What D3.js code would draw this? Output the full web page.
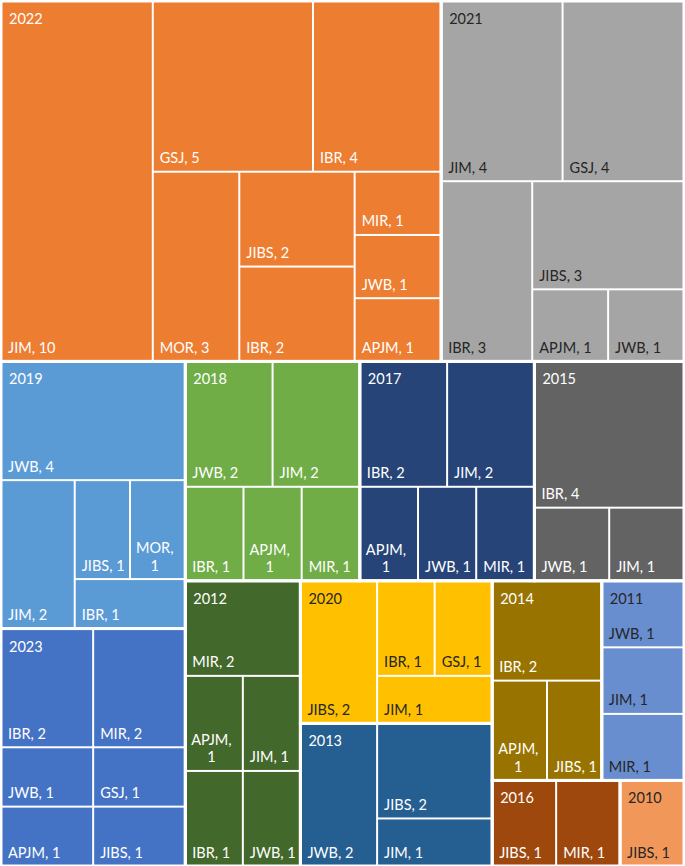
<!DOCTYPE html>
<html><head><meta charset="utf-8">
<script src="https://cdn.jsdelivr.net/npm/d3@7"></script>
<style>
body{margin:0;background:#fff}
text{font-family:Lato,"Open Sans",sans-serif}
</style>
</head><body>
<svg id="chart" width="685" height="866"></svg>
<script>
// ---- data ----
const years = ["2023","2022","2021","2020","2019","2018","2017","2016","2015","2014","2013","2012","2011","2010"];
const journals = [
  ["IBR","MIR","JWB","APJM","GSJ","JIBS"],
  ["JIM","GSJ","IBR","MOR","JIBS","IBR","MIR","JWB","APJM"],
  ["JIM","GSJ","IBR","JIBS","APJM","JWB"],
  ["JIBS","IBR","GSJ","JIM"],
  ["JWB","JIM","JIBS","MOR","IBR"],
  ["JWB","JIM","IBR","APJM","MIR"],
  ["IBR","JIM","APJM","JWB","MIR"],
  ["JIBS","MIR"],
  ["IBR","JWB","JIM"],
  ["IBR","APJM","JIBS"],
  ["JWB","JIBS","JIM"],
  ["MIR","APJM","JIM","IBR","JWB"],
  ["JWB","JIM","MIR"],
  ["JIBS"]
];
const counts = [
  [2,2,1,1,1,1],
  [10,5,4,3,2,2,1,1,1],
  [4,4,3,3,1,1],
  [2,1,1,1],
  [4,2,1,1,1],
  [2,2,1,1,1],
  [2,2,1,1,1],
  [1,1],
  [4,1,1],
  [2,1,1],
  [2,2,1],
  [2,1,1,1,1],
  [1,1,1],
  [1]
];
// ---- styles ----
const palette = ["#4472C4","#ED7D31","#A5A5A5","#FFC000","#5B9BD5","#70AD47","#264478","#9E480E","#636363","#997300","#255E91","#43682B","#698ED0","#F1975A"];
const labelInk = ["#fff","#fff","#262626","#262626","#fff","#fff","#fff","#fff","#fff","#fff","#fff","#fff","#262626","#262626"];

const color = d3.scaleOrdinal().domain(years).range(palette);
const ink = d3.scaleOrdinal().domain(years).range(labelInk);

const X0 = 1, Y0 = 1, X1 = 684, Y1 = 866;
const PW = X1 - X0, PH = Y1 - Y0;

// Excel-like squarified tiling: rows along the shorter side,
// aspect ratio judged against the plot's own width/height ratio.
function excelTile(target){
  return function(parent, x0, y0, x1, y1){
    const nodes = parent.children, n = nodes.length;
    let value = parent.value, i0 = 0;
    while (i0 < n) {
      const dx = x1 - x0, dy = y1 - y0, horiz = dx < dy;
      let i1 = i0, sum = 0, best = Infinity;
      while (i1 < n) {
        const s = sum + nodes[i1].value;
        let worst = 0;
        for (let k = i0; k <= i1; k++) {
          const v = nodes[k].value;
          let r;
          if (horiz) { const h = dy * s / value; r = (dx * v / s) / h; }
          else { const w = dx * s / value; r = w / (dy * v / s); }
          worst = Math.max(worst, r / target, target / r);
        }
        if (worst > best) break;
        best = worst; sum = s; i1++;
      }
      const row = {children: nodes.slice(i0, i1), value: sum};
      if (horiz) { const yy = value ? y0 + dy * sum / value : y1; d3.treemapDice(row, x0, y0, x1, yy); y0 = yy; }
      else { const xx = value ? x0 + dx * sum / value : x1; d3.treemapSlice(row, x0, y0, xx, y1); x0 = xx; }
      value -= sum; i0 = i1;
    }
  };
}

const rootData = {name: "root", children: years.map((y, i) => ({
  name: y, children: journals[i].map((j, k) => ({name: j, value: counts[i][k]}))
}))};

const root = d3.hierarchy(rootData)
  .sum(d => d.value || 0)
  .sort((a, b) => b.value - a.value);

d3.treemap().tile(excelTile(PW / PH)).size([PW, PH])(root);

const svg = d3.select("#chart");
const g = svg.append("g").attr("transform", `translate(${X0},${Y0})`);

const leaves = root.leaves();
const FS = 14.5, PAD = 7;

const leafG = g.selectAll("g.leaf").data(leaves).join("g").attr("class", "leaf");
leafG.append("rect")
  .attr("x", d => d.x0 + 1).attr("y", d => d.y0 + 1)
  .attr("width", d => Math.max(0, d.x1 - d.x0 - 2))
  .attr("height", d => Math.max(0, d.y1 - d.y0 - 2))
  .attr("fill", d => color(d.parent.data.name));

// group outlines (slightly wider white gaps between years)
g.selectAll("rect.grp").data(root.children).join("rect")
  .attr("class", "grp")
  .attr("x", d => d.x0).attr("y", d => d.y0)
  .attr("width", d => d.x1 - d.x0).attr("height", d => d.y1 - d.y0)
  .attr("fill", "none").attr("stroke", "#fff").attr("stroke-width", 3);

leafG.each(function(d){
  const sel = d3.select(this);
  const label = `${d.data.name}, ${d.value}`;
  const fill = ink(d.parent.data.name);
  const w = d.x1 - d.x0;
  const t = sel.append("text").attr("font-size", FS).attr("fill", fill)
    .attr("x", d.x0 + PAD).attr("y", d.y1 - 8.5).text(label);
  const tw = t.node().getComputedTextLength();
  if (tw > w - 11) {
    const parts = label.split(" ");
    t.remove();
    const widths = [];
    const tmp = parts.map(p => {
      const e = sel.append("text").attr("font-size", FS).text(p);
      widths.push(e.node().getComputedTextLength());
      return e;
    });
    tmp.forEach(e => e.remove());
    const mw = d3.max(widths);
    const lh = 17.5;
    parts.forEach((p, i) => {
      sel.append("text").attr("font-size", FS).attr("fill", fill)
        .attr("text-anchor", "middle")
        .attr("x", d.x0 + PAD - 1 + mw / 2)
        .attr("y", d.y1 - 8.5 - (parts.length - 1 - i) * lh)
        .text(p);
    });
  }
});

g.selectAll("text.year").data(root.children).join("text")
  .attr("class", "year")
  .attr("x", d => d.x0 + PAD + 1).attr("y", d => d.y0 + 23)
  .attr("font-size", FS).attr("fill", d => ink(d.data.name))
  .text(d => d.data.name);
</script>
</body></html>
